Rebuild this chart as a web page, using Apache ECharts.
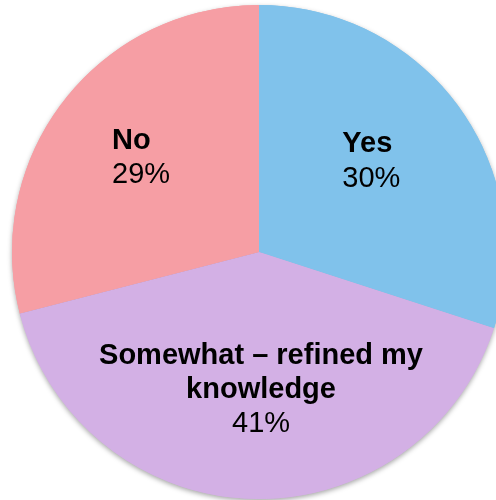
<!DOCTYPE html>
<html>
<head>
<meta charset="utf-8">
<script src="https://cdn.jsdelivr.net/npm/echarts@6/dist/echarts.min.js"></script>
<style>
  html, body { margin: 0; padding: 0; background: #ffffff; }
  #chart { width: 496px; height: 500px; }
</style>
</head>
<body>
<div id="chart"></div>
<script>
// Survey answers, clockwise from 12 o'clock
const categories = ['Yes', 'Somewhat – refined my\nknowledge', 'No'];
const shares = [30, 41, 29];
const sliceColors = ['#80C2EB', '#D3B0E5', '#F69EA4'];

// Label offsets from the default inside position (px)
const labelShift = [
  { dx: 10, dy: -16, align: 'left' },
  { dx: 6, dy: 12, align: 'center' },
  { dx: -18, dy: -16, align: 'left' }
];

const FONT = '"Liberation Sans", Arial, sans-serif';
const PIE_CENTER = [259, 252];
const PIE_RADIUS = 247;

const sliceData = function (withLabels) {
  return categories.map(function (name, i) {
    const item = { name: name, value: shares[i], itemStyle: { color: sliceColors[i] } };
    if (withLabels) {
      const a = labelShift[i].align;
      item.label = { align: a, rich: { name: { align: a }, pct: { align: a } } };
    }
    return item;
  });
};

const chart = echarts.init(document.getElementById('chart'), null, { renderer: 'canvas' });

chart.setOption({
  animation: false,
  backgroundColor: '#ffffff',
  series: [
    // soft drop shadow around the rim
    {
      type: 'pie',
      center: PIE_CENTER,
      radius: PIE_RADIUS,
      startAngle: 90,
      silent: true,
      label: { show: false },
      labelLine: { show: false },
      itemStyle: {
        borderWidth: 0,
        shadowBlur: 5,
        shadowOffsetY: 2,
        shadowColor: 'rgba(0,0,0,0.35)'
      },
      data: sliceData(false)
    },
    // slices and labels
    {
      type: 'pie',
      center: PIE_CENTER,
      radius: PIE_RADIUS,
      startAngle: 90,
      silent: true,
      itemStyle: { borderWidth: 0 },
      label: {
        show: true,
        position: 'inside',
        fontFamily: FONT,
        color: '#000000',
        formatter: function (p) {
          return '{name|' + p.name.split('\n').join('}\n{name|') + '}\n{pct|' + p.value + '%}';
        },
        rich: {
          name: { fontSize: 29, fontWeight: 'bold', lineHeight: 34, color: '#000000', fontFamily: FONT },
          pct: { fontSize: 29, fontWeight: 'normal', lineHeight: 35, color: '#000000', fontFamily: FONT }
        }
      },
      labelLine: { show: false },
      labelLayout: function (params) {
        const s = labelShift[params.dataIndex];
        return { dx: s.dx, dy: s.dy };
      },
      data: sliceData(true)
    }
  ]
});
</script>
</body>
</html>
